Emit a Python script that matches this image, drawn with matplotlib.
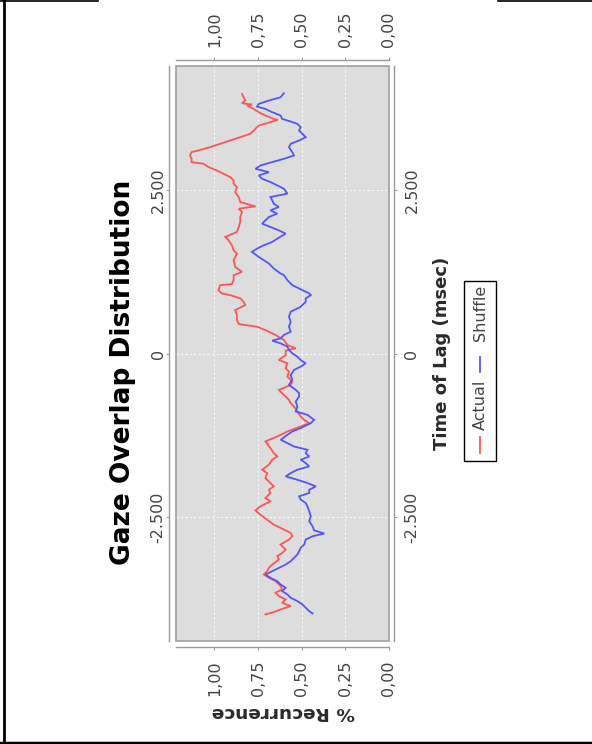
import matplotlib
matplotlib.use("Agg")
import matplotlib.pyplot as plt
from matplotlib.lines import Line2D
from matplotlib.patches import Rectangle
from matplotlib.ticker import FuncFormatter, FixedLocator
from matplotlib.transforms import offset_copy

plt.rcParams['font.family'] = ['DejaVu Sans']

# Lag (ms) and % recurrence for the observed gaze overlap
actual_lag = [3972, 3922, 3871, 3830, 3810, 3794, 3743, 3693, 3642, 3591, 3575, 3540,
              3489, 3413, 3362, 3311, 3260, 3209, 3158, 3107, 3082, 3031, 2980, 2929,
              2904, 2853, 2802, 2751, 2700, 2649, 2598, 2547, 2471, 2395, 2318, 2252,
              2216, 2166, 2089, 2013, 1936, 1860, 1784, 1733, 1656, 1580, 1529, 1428,
              1326, 1250, 1199, 1123, 1062, 1046, 970, 919, 894, 843, 792, 741, 664,
              588, 512, 451, 410, 359, 283, 206, 130, 79, 44, -23, -99, -150, -226,
              -277, -353, -430, -481, -557, -608, -659, -710, -761, -812, -888, -964,
              -1015, -1066, -1117, -1193, -1270, -1346, -1448, -1525, -1576, -1626,
              -1703, -1779, -1830, -1906, -1983, -2034, -2085, -2135, -2212, -2263,
              -2339, -2400, -2466, -2543, -2619, -2695, -2746, -2797, -2848, -2924,
              -3001, -3052, -3103, -3153, -3230, -3281, -3332, -3383, -3433, -3484,
              -3560, -3611, -3662, -3713, -3764, -3815, -3866, -3917, -3958, -3993]
actual_val = [0.842, 0.833, 0.823, 0.842, 0.785, 0.813, 0.775, 0.746, 0.708, 0.660, 0.637,
              0.679, 0.746, 0.775, 0.794, 0.852, 0.910, 0.967, 1.025, 1.092, 1.131, 1.140,
              1.131, 1.131, 1.063, 1.034, 0.987, 0.948, 0.910, 0.890, 0.890, 0.871, 0.881,
              0.861, 0.852, 0.765, 0.861, 0.842, 0.852, 0.852, 0.861, 0.871, 0.938, 0.919,
              0.900, 0.890, 0.871, 0.890, 0.881, 0.842, 0.890, 0.890, 0.900, 0.967, 0.977,
              0.957, 0.910, 0.852, 0.833, 0.823, 0.881, 0.871, 0.871, 0.861, 0.756, 0.708,
              0.650, 0.602, 0.582, 0.534, 0.592, 0.592, 0.631, 0.582, 0.592, 0.573, 0.582,
              0.554, 0.563, 0.631, 0.612, 0.592, 0.573, 0.563, 0.544, 0.525, 0.506, 0.486,
              0.457, 0.506, 0.582, 0.640, 0.708, 0.679, 0.660, 0.640, 0.669, 0.688, 0.727,
              0.698, 0.708, 0.679, 0.660, 0.688, 0.679, 0.708, 0.679, 0.737, 0.765, 0.737,
              0.698, 0.660, 0.602, 0.563, 0.554, 0.573, 0.621, 0.592, 0.612, 0.640, 0.631,
              0.669, 0.688, 0.698, 0.717, 0.688, 0.650, 0.621, 0.612, 0.650, 0.631, 0.592,
              0.612, 0.563, 0.621, 0.660, 0.708]

# Lag (ms) and % recurrence for the shuffled baseline
shuffle_lag = [3983, 3922, 3871, 3820, 3779, 3743, 3693, 3642, 3591, 3550, 3514, 3463,
               3413, 3362, 3311, 3260, 3209, 3158, 3082, 3031, 2980, 2929, 2878, 2827,
               2776, 2725, 2674, 2624, 2573, 2522, 2446, 2395, 2344, 2293, 2242, 2191,
               2140, 2089, 2038, 1987, 1936, 1885, 1834, 1758, 1707, 1656, 1605, 1555,
               1478, 1428, 1377, 1301, 1224, 1199, 1123, 1046, 970, 919, 894, 843, 792,
               715, 639, 563, 486, 410, 334, 283, 232, 196, 155, 105, 54, 3, -48, -99,
               -150, -201, -252, -328, -404, -481, -557, -608, -659, -735, -812, -888,
               -939, -1015, -1066, -1142, -1193, -1244, -1321, -1372, -1423, -1474,
               -1525, -1576, -1626, -1677, -1728, -1779, -1830, -1881, -1932, -1983,
               -2034, -2085, -2135, -2186, -2237, -2288, -2339, -2415, -2492, -2568,
               -2645, -2705, -2756, -2797, -2848, -2924, -2975, -3026, -3077, -3128,
               -3179, -3230, -3281, -3332, -3383, -3433, -3484, -3535, -3586, -3637,
               -3688, -3738, -3789, -3840, -3891, -3942, -3978]
shuffle_val = [0.602, 0.621, 0.688, 0.746, 0.756, 0.708, 0.669, 0.621, 0.612, 0.563, 0.525,
               0.506, 0.515, 0.496, 0.477, 0.515, 0.563, 0.573, 0.554, 0.544, 0.602, 0.669,
               0.736, 0.765, 0.688, 0.746, 0.727, 0.679, 0.640, 0.602, 0.582, 0.679, 0.669,
               0.660, 0.631, 0.679, 0.640, 0.688, 0.708, 0.727, 0.679, 0.631, 0.592, 0.640,
               0.669, 0.717, 0.756, 0.785, 0.746, 0.717, 0.688, 0.660, 0.621, 0.602, 0.582,
               0.554, 0.496, 0.457, 0.448, 0.477, 0.477, 0.506, 0.563, 0.573, 0.563, 0.573,
               0.563, 0.602, 0.621, 0.669, 0.621, 0.582, 0.573, 0.554, 0.525, 0.506, 0.477,
               0.506, 0.544, 0.563, 0.554, 0.573, 0.534, 0.515, 0.515, 0.534, 0.525, 0.534,
               0.467, 0.429, 0.448, 0.506, 0.554, 0.582, 0.620, 0.582, 0.544, 0.467, 0.477,
               0.457, 0.506, 0.477, 0.457, 0.525, 0.563, 0.592, 0.525, 0.467, 0.419, 0.457,
               0.457, 0.515, 0.506, 0.477, 0.467, 0.457, 0.448, 0.457, 0.438, 0.429, 0.371,
               0.438, 0.477, 0.486, 0.506, 0.515, 0.525, 0.544, 0.563, 0.592, 0.631, 0.669,
               0.708, 0.679, 0.640, 0.621, 0.592, 0.612, 0.582, 0.563, 0.525, 0.496, 0.477,
               0.457, 0.438]

series_names = ["Actual", "Shuffle"]
series_colors = ["#ff5555", "#5555ff"]
value_ticks = [1.00, 0.75, 0.50, 0.25, 0.00]
lag_ticks = [-2500, 0, 2500]

W, H = 592, 744
fig = plt.figure(figsize=(W / 100, H / 100), dpi=100)
fig.patch.set_facecolor("white")


def fx(px):
    return px / W


def fy(py):
    return 1 - py / H


def lag_fmt(v):
    return f"{int(v):,}".replace(",", ".")


# The chart is laid out turned a quarter turn: recurrence runs right-to-left,
# lag runs bottom-to-top.
ax = fig.add_axes([fx(176), fy(641), fx(389) - fx(176), fy(66) - fy(641)])
ax.set_facecolor("#dddddd")
ax.set_xlim(1.22, 0.0)
ax.set_ylim(-4400, 4400)

for lag, val, col in zip([actual_lag, shuffle_lag], [actual_val, shuffle_val], series_colors):
    ax.plot(val, lag, color=col, lw=1.3, solid_joinstyle="miter")

ax.xaxis.set_major_locator(FixedLocator(value_ticks))
ax.yaxis.set_major_locator(FixedLocator(lag_ticks))
ax.xaxis.set_major_formatter(FuncFormatter(lambda v, p: f"{v:.2f}".replace(".", ",")))
ax.yaxis.set_major_formatter(FuncFormatter(lambda v, p: lag_fmt(v)))

ax.grid(True, color="white", lw=0.8, ls=(0, (2, 2)), alpha=0.85)
ax.set_axisbelow(True)

# axis lines sit just outside the plot border
ax.spines["left"].set_position(("outward", 5))
ax.spines["right"].set_position(("outward", 3.6))
ax.spines["top"].set_position(("outward", 4.3))
ax.spines["bottom"].set_position(("outward", 4.3))
for s in ax.spines.values():
    s.set_color("#9a9a9a")
    s.set_linewidth(1.0)

ax.add_patch(Rectangle((0, 0), 1, 1, transform=ax.transAxes, fill=False,
                       edgecolor="#a0a0a0", lw=1.2, clip_on=False, zorder=5))

ax.tick_params(axis="both", which="both", direction="out", length=2.5, width=0.8,
               color="#9a9a9a", labelcolor="#444444", labelsize=11.5)
ax.tick_params(axis="x", top=True, labeltop=True, bottom=True, labelbottom=True,
               labelrotation=90, pad=7)
ax.tick_params(axis="y", left=True, labelleft=True, right=True, labelright=False,
               labelrotation=90, pad=0)
for t in ax.yaxis.get_major_ticks():
    t.label1.set_va("center")

# lag labels on the right-hand axis
right_tr = offset_copy(ax.get_yaxis_transform(), fig=fig, x=16.5, y=0, units="points")
for t in lag_ticks:
    ax.text(1.0, t, lag_fmt(t), transform=right_tr, rotation=90, ha="center",
            va="center", fontsize=11.5, color="#444444", clip_on=False)

# titles and axis labels
fig.text(fx(123), fy(372), "Gaze Overlap Distribution", rotation=90, fontsize=19,
         fontweight="bold", ha="center", va="center", color="black")
fig.text(fx(442), fy(353), "Time of Lag (msec)", rotation=90, fontsize=13,
         fontweight="bold", ha="center", va="center", color="#2a2a2a")
fig.text(fx(283), fy(712), "% Recurrence", rotation=180, fontsize=13.3,
         fontweight="bold", ha="center", va="center", color="#2a2a2a")

# legend, drawn turned like the rest of the chart
fig.add_artist(Rectangle((fx(464), fy(461)), fx(496) - fx(464), fy(281) - fy(461),
                         transform=fig.transFigure, facecolor="white",
                         edgecolor="black", lw=1.0))
legend_entries = [(series_names[0], series_colors[0], 453, 437, 405),
                  (series_names[1], series_colors[1], 372, 357, 313)]
for name, col, y0, y1, ytxt in legend_entries:
    fig.add_artist(Line2D([fx(480), fx(480)], [fy(y0), fy(y1)],
                          transform=fig.transFigure, color=col, lw=1.3))
    fig.text(fx(480), fy(ytxt), name, rotation=90, fontsize=11.5, ha="center",
             va="center", color="#444444")

# page frame
fig.add_artist(Line2D([fx(4), fx(4)], [fy(0), fy(743)], transform=fig.transFigure,
                      color="black", lw=2.0))
fig.add_artist(Line2D([0, 1], [fy(742.5), fy(742.5)], transform=fig.transFigure,
                      color="black", lw=2.5))
fig.add_artist(Line2D([0, fx(98)], [fy(0.5), fy(0.5)], transform=fig.transFigure,
                      color="black", lw=1.2))
fig.add_artist(Line2D([fx(498), 1], [fy(0.5), fy(0.5)], transform=fig.transFigure,
                      color="black", lw=1.2))

fig.savefig("out.png", dpi=100)
